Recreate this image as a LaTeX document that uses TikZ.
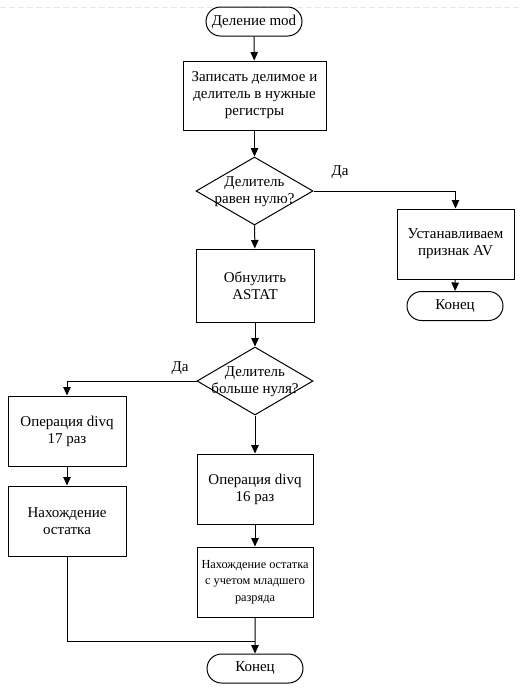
\documentclass[tikz,border=0pt]{standalone}
\usepackage{fontspec}
\setmainfont{Liberation Serif}
\usetikzlibrary{shapes.geometric,shapes.misc,arrows.meta}
\begin{document}
\begin{tikzpicture}[x=1pt,y=-1pt,
  every node/.style={font=\fontsize{15}{17}\selectfont, align=center, inner sep=0pt},
  procbox/.style={draw, line width=1pt, rectangle},
  term/.style={draw, line width=1pt, rounded rectangle, minimum width=96pt, minimum height=29pt},
  decis/.style={draw, line width=1pt, diamond, aspect=1.72},
  conn/.style={line width=1pt},
  arr/.style={conn, -{Triangle[width=7.5pt,length=8.5pt]}},
  lbl/.style={font=\fontsize{15}{17}\selectfont}]
\useasboundingbox (0,0) rectangle (522,691);
\draw[black!9, dash pattern=on 6pt off 3pt, line width=0.5pt] (0,7) -- (522,7);

\node[term] (start) at (254,21.5) {Деление mod};
\node[procbox, minimum width=143pt, minimum height=69pt] (b1) at (254.5,95.5) {Записать делимое и\\делитель в нужные\\регистры};
\node[decis, minimum width=117pt, minimum height=68pt] (d1) at (254.5,191) {};
\node at (254.5,192) {Делитель\\равен нулю?};
\node[procbox, minimum width=117pt, minimum height=70pt] (av) at (455.5,244) {Устанавливаем\\признак AV};
\node[term] (end1) at (455,306) {Конец};
\node[procbox, minimum width=118pt, minimum height=73pt] (z) at (255,285.5) {Обнулить\\ASTAT};
\node[decis, minimum width=116pt, minimum height=68pt] (d2) at (255,381) {};
\node at (255,382) {Делитель\\больше нуля?};
\node[procbox, minimum width=118pt, minimum height=70pt] (l1) at (67,431) {Операция divq\\17 раз};
\node[procbox, minimum width=118pt, minimum height=70pt] (l2) at (67,521) {Нахождение\\остатка};
\node[procbox, minimum width=116pt, minimum height=70pt] (r1) at (255,489) {Операция divq\\16 раз};
\node[procbox, minimum width=116pt, minimum height=70pt, font=\fontsize{12.3}{16.5}\selectfont] (r2) at (255,582) {Нахождение остатка\\с учетом младшего\\разряда};
\node[term] (end2) at (255,668.5) {Конец};
\coordinate (j) at (255,641);

\draw[arr] (start) -- (b1);
\draw[arr] (b1) -- (d1);
\draw[arr] (d1.east) -| (av.north);
\node[lbl] (da1) at (340,172) {Да};
\draw[arr] (av) -- (end1);
\draw[arr] (d1) -- (z);
\draw[arr] (z) -- (d2);
\draw[arr] (d2.west) -| (l1.north);
\node[lbl] (da2) at (180,368) {Да};
\draw[arr] (l1) -- (l2);
\draw[arr] (d2) -- (r1);
\draw[arr] (r1) -- (r2);
\draw[conn] (l2.south) |- (j);
\draw[arr] (r2) -- (end2);
\end{tikzpicture}
\end{document}
